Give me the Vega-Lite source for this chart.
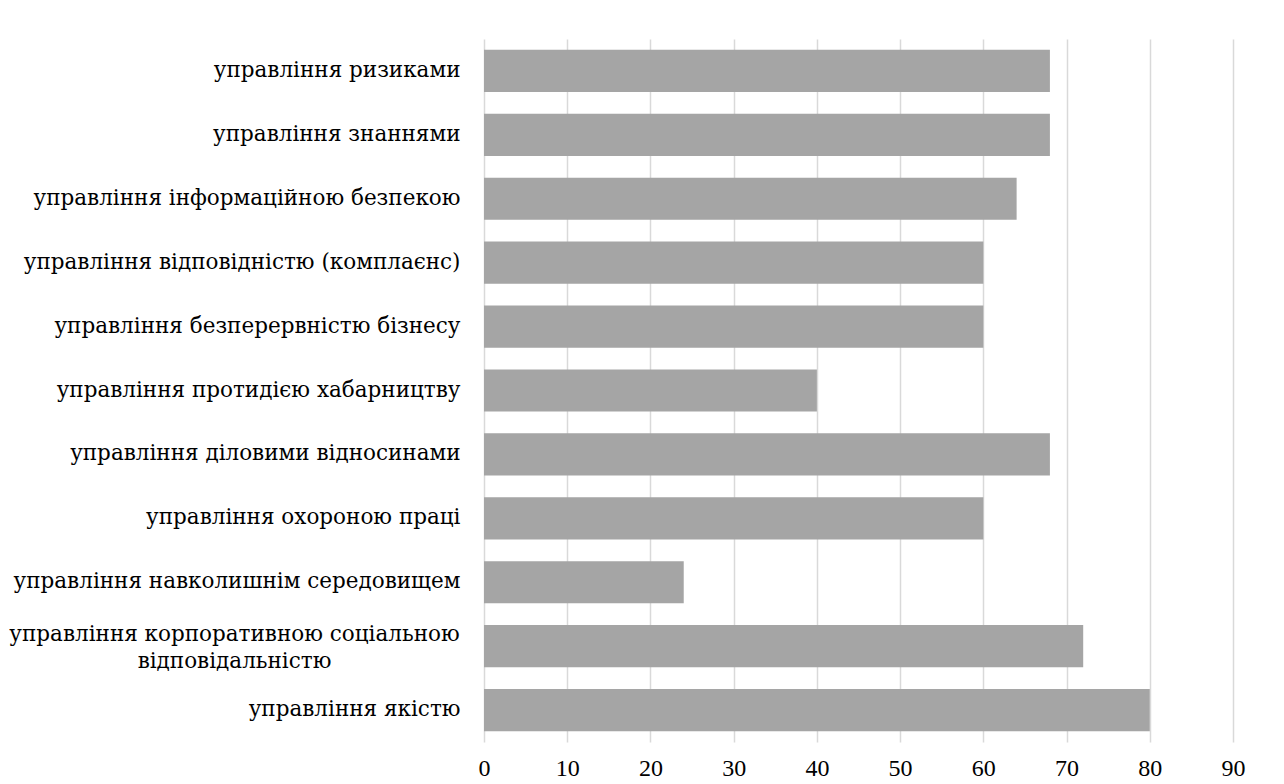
{
  "$schema": "https://vega.github.io/schema/vega-lite/v6.json",
  "autosize": "none",
  "padding": {"left": 484, "top": 39, "right": 51, "bottom": 42},
  "width": 749,
  "height": 703,
  "background": "white",
  "config": {"view": {"stroke": null}, "font": "Liberation Serif"},
  "data": {
    "values": [
      {"category": "управління ризиками", "value": 68},
      {"category": "управління знаннями", "value": 68},
      {"category": "управління інформаційною безпекою", "value": 64},
      {"category": "управління відповідністю (комплаєнс)", "value": 60},
      {"category": "управління безперервністю бізнесу", "value": 60},
      {"category": "управління протидією хабарництву", "value": 40},
      {"category": "управління діловими відносинами", "value": 68},
      {"category": "управління охороною праці", "value": 60},
      {"category": "управління навколишнім середовищем", "value": 24},
      {"category": "управління корпоративною соціальною відповідальністю", "value": 72},
      {"category": "управління якістю", "value": 80}
    ]
  },
  "mark": {"type": "bar", "color": "#a5a5a5"},
  "encoding": {
    "y": {
      "field": "category",
      "type": "nominal",
      "sort": null,
      "scale": {"paddingInner": 0.34, "paddingOuter": 0.17},
      "axis": {
        "title": null,
        "domain": false,
        "ticks": false,
        "labelFont": "DejaVu Serif",
        "labelFontSize": 21.5,
        "labelColor": "#000000",
        "labelPadding": {"condition": {"test": "datum.value == 'управління корпоративною соціальною відповідальністю'", "value": 250}, "value": 24},
        "labelAlign": {"condition": {"test": "datum.value == 'управління корпоративною соціальною відповідальністю'", "value": "center"}, "value": "right"},
        "labelOffset": {"condition": {"test": "datum.value == 'управління корпоративною соціальною відповідальністю'", "value": -11}, "value": 0},
        "labelLimit": 0,
        "labelLineHeight": 27,
        "labelExpr": "datum.value == 'управління корпоративною соціальною відповідальністю' ? ['управління корпоративною соціальною', 'відповідальністю'] : datum.value"
      }
    },
    "x": {
      "field": "value",
      "type": "quantitative",
      "scale": {"domain": [0, 90], "nice": false},
      "axis": {
        "title": null,
        "domain": false,
        "ticks": false,
        "values": [0, 10, 20, 30, 40, 50, 60, 70, 80, 90],
        "grid": true,
        "gridColor": "#d9d9d9",
        "gridWidth": 1.5,
        "labelFlush": false,
        "labelFont": "Liberation Serif",
        "labelFontSize": 24,
        "labelColor": "#000000",
        "labelPadding": 14
      }
    }
  }
}
